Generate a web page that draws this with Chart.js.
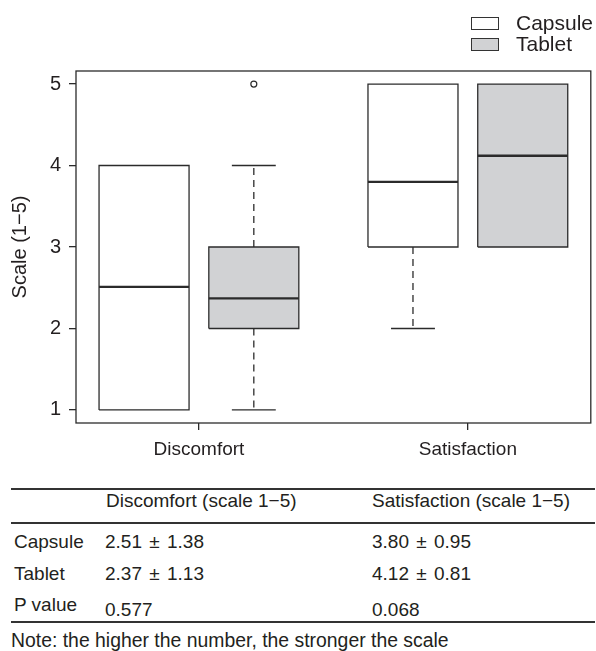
<!DOCTYPE html>
<html>
<head>
<meta charset="utf-8">
<script src="https://cdn.jsdelivr.net/npm/chart.js@4.4.0/dist/chart.umd.min.js"></script>
<style>
  body { margin: 0; background: #fff; font-family: 'Liberation Sans', Arial, sans-serif; color: #231f20; }
  #wrap { position: relative; width: 596px; height: 651px; overflow: hidden; }
  #chartBox { position: absolute; left: 0; top: 0; width: 596px; height: 470px; }
  .t { position: absolute; font-size: 19px; line-height: 19px; white-space: nowrap; }
  .pm { word-spacing: 2px; }
  .lg { position: absolute; left: 516px; font-size: 21px; line-height: 21px; white-space: nowrap; }
  .rule { position: absolute; left: 11px; width: 584px; height: 1.5px; background: #333; }
  .key { position: absolute; left: 471px; width: 28px; height: 13px; box-sizing: border-box; border: 1.3px solid #333; }
</style>
</head>
<body>
<div id="wrap">
  <div id="chartBox"><canvas id="boxChart"></canvas></div>

  <!-- legend -->
  <div class="key" style="top:17px;background:#fff"></div>
  <div class="lg" style="top:12px">Capsule</div>
  <div class="key" style="top:37.5px;background:#d1d2d4"></div>
  <div class="lg" style="top:33px">Tablet</div>

  <!-- summary table -->
  <div class="rule" style="top:488px"></div>
  <div class="t" style="left:106px;top:490.5px">Discomfort (scale 1&minus;5)</div>
  <div class="t" style="left:372px;top:490.5px">Satisfaction (scale 1&minus;5)</div>
  <div class="rule" style="top:522px"></div>
  <div class="t" style="left:14px;top:531.5px">Capsule</div>
  <div class="t pm" style="left:105px;top:531.5px">2.51 &plusmn; 1.38</div>
  <div class="t pm" style="left:372px;top:531.5px">3.80 &plusmn; 0.95</div>
  <div class="t" style="left:14px;top:564px">Tablet</div>
  <div class="t pm" style="left:105px;top:564px">2.37 &plusmn; 1.13</div>
  <div class="t pm" style="left:372px;top:564px">4.12 &plusmn; 0.81</div>
  <div class="t" style="left:14px;top:594.5px">P value</div>
  <div class="t" style="left:105px;top:599.5px">0.577</div>
  <div class="t" style="left:372px;top:599.5px">0.068</div>
  <div class="rule" style="top:621px"></div>
  <div class="t" style="left:11px;top:631px;font-size:19.4px">Note: the higher the number, the stronger the scale</div>
</div>

<script>
// groups on the x axis and the two preparations
const groups = ['Discomfort', 'Satisfaction'];
const series = ['Capsule', 'Tablet'];

// one entry per box: Capsule/Discomfort, Tablet/Discomfort, Capsule/Satisfaction, Tablet/Satisfaction
const boxGroup = [0, 0, 1, 1];
const boxSeries = [0, 1, 0, 1];
const q1 = [1, 2, 3, 3];
const q3 = [4, 3, 5, 5];
const medians = [2.51, 2.37, 3.80, 4.12];
const whiskerLow = [1, 1, 2, 3];
const whiskerHigh = [4, 4, 5, 5];
const outliers = [[], [5], [], []];

const yTicks = [1, 2, 3, 4, 5];

// layout on the x axis (data units)
const boxAt = [1, 2, 3.45, 4.45];
const groupAt = [1.5, 3.95];
const halfBox = 0.41;
const halfCap = 0.2;

const ink = '#2b2b2b';
const fills = ['#ffffff', '#d1d2d4'];

let datasets = [];

for (let i = 0; i < boxAt.length; i++) {
  const p = boxAt[i];
  // box
  datasets.push({
    label: series[boxSeries[i]],
    data: [
      {x: p - halfBox, y: q1[i]}, {x: p + halfBox, y: q1[i]},
      {x: p + halfBox, y: q3[i]}, {x: p - halfBox, y: q3[i]},
      {x: p - halfBox, y: q1[i]}
    ],
    borderColor: ink, borderWidth: 1.3, backgroundColor: fills[boxSeries[i]],
    fill: 'shape', pointRadius: 0, tension: 0, order: 3
  });
  // median
  datasets.push({
    data: [{x: p - halfBox, y: medians[i]}, {x: p + halfBox, y: medians[i]}],
    borderColor: ink, borderWidth: 2.3, pointRadius: 0, order: 0
  });
  // whiskers + staples
  if (whiskerHigh[i] > q3[i]) {
    datasets.push({
      data: [{x: p, y: q3[i]}, {x: p, y: whiskerHigh[i]}],
      borderColor: ink, borderWidth: 1.3, borderDash: [7, 5], pointRadius: 0, order: 1
    });
    datasets.push({
      data: [{x: p - halfCap, y: whiskerHigh[i]}, {x: p + halfCap, y: whiskerHigh[i]}],
      borderColor: ink, borderWidth: 1.3, pointRadius: 0, order: 1
    });
  }
  if (whiskerLow[i] < q1[i]) {
    datasets.push({
      data: [{x: p, y: q1[i]}, {x: p, y: whiskerLow[i]}],
      borderColor: ink, borderWidth: 1.3, borderDash: [7, 5], pointRadius: 0, order: 1
    });
    datasets.push({
      data: [{x: p - halfCap, y: whiskerLow[i]}, {x: p + halfCap, y: whiskerLow[i]}],
      borderColor: ink, borderWidth: 1.3, pointRadius: 0, order: 1
    });
  }
  if (outliers[i].length) {
    datasets.push({
      data: outliers[i].map(v => ({x: p, y: v})),
      showLine: false, pointRadius: 3, pointBorderWidth: 1.2,
      pointBorderColor: ink, pointBackgroundColor: '#fff', order: 0
    });
  }
}

// full frame around the plot region
const framePlugin = {
  id: 'frame',
  afterDatasetsDraw(chart) {
    const a = chart.chartArea;
    const ctx = chart.ctx;
    ctx.save();
    ctx.strokeStyle = ink;
    ctx.lineWidth = 1.3;
    ctx.strokeRect(a.left, a.top, a.right - a.left, a.bottom - a.top);
    ctx.restore();
  }
};

const family = "'Liberation Sans', Arial, sans-serif";

new Chart(document.getElementById('boxChart'), {
  type: 'line',
  data: {datasets: datasets},
  plugins: [framePlugin],
  options: {
    responsive: true,
    maintainAspectRatio: false,
    animation: false,
    layout: {padding: {top: 71, right: 3, left: 0, bottom: 0}},
    plugins: {legend: {display: false}, tooltip: {enabled: false}},
    scales: {
      x: {
        type: 'linear',
        min: 0.38, max: 5.07,
        afterBuildTicks: s => { s.ticks = groupAt.map(v => ({value: v})); },
        afterFit: s => { s.height = 47; },
        ticks: {
          font: {family: family, size: 19}, color: '#231f20', padding: 8, maxRotation: 0,
          callback: v => groups[groupAt.indexOf(v)]
        },
        grid: {drawOnChartArea: false, drawTicks: true, tickLength: 7, color: ink, lineWidth: 1.3},
        border: {display: false}
      },
      y: {
        min: 0.84, max: 5.16,
        afterBuildTicks: s => { s.ticks = yTicks.map(v => ({value: v})); },
        afterFit: s => { s.width = 76; },
        ticks: {font: {family: family, size: 20}, color: '#231f20', padding: 8},
        grid: {drawOnChartArea: false, drawTicks: true, tickLength: 7, color: ink, lineWidth: 1.3},
        border: {display: false},
        title: {display: true, text: 'Scale (1\u22125)', font: {family: family, size: 20}, color: '#231f20', padding: {top: 8, bottom: 0}}
      }
    }
  }
});
</script>
</body>
</html>
